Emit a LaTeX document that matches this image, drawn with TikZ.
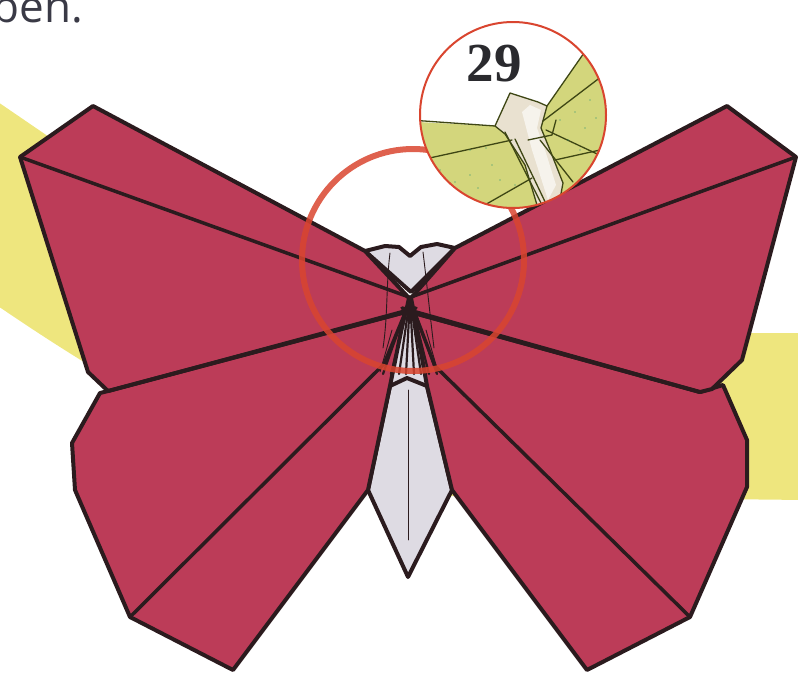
\documentclass[tikz,border=0pt]{standalone}
\usepackage{fontspec}
\setmainfont{Liberation Serif}
\newfontfamily\captionfont{Open Sans}
\begin{document}
\begin{tikzpicture}[x=1pt,y=-1pt,line join=round,line cap=round]
\definecolor{wingred}{HTML}{BC3C58}
\definecolor{outline}{HTML}{2B1B1E}
\definecolor{ribbon}{HTML}{EEE67E}
\definecolor{bodygray}{HTML}{DEDBE3}
\definecolor{ringred}{HTML}{D9452F}
\definecolor{insetgreen}{HTML}{D3D67C}
\definecolor{insetline}{HTML}{3E4614}
\definecolor{headbeige}{HTML}{E9E1D0}
\definecolor{numgray}{HTML}{2A2A2E}
\definecolor{textgray}{HTML}{3A3A46}
\tikzset{
  wing/.style={fill=wingred,draw=outline,line width=4},
  bodypart/.style={fill=bodygray,draw=outline,line width=4},
  crease/.style={draw=outline,line width=3.5},
  fanline/.style={draw=outline,line width=2.2},
  fold/.style={draw=outline,line width=0.9},
  ring/.style={draw=ringred,line width=6,opacity=0.85},
  insetedge/.style={draw=insetline,line width=1.3},
}
\useasboundingbox (0,0) rectangle (798,675);
\clip (0,0) rectangle (798,675);

% yellow ribbon behind the butterfly
\fill[ribbon] (-5,100) .. controls (200,240) and (330,333) .. (480,333) -- (805,333)
  -- (805,500) -- (440,496) .. controls (300,490) and (150,410) .. (-5,304) -- cycle;

% body core between the lower wings
\fill[bodygray] (404,300) -- (416,300) -- (430,392) -- (386,392) -- cycle;

% lower body
\filldraw[bodypart] (407,378) -- (427,386) -- (452,490) -- (408,577) -- (368,490) -- (390,386) -- cycle;
\draw[fold] (408,390) -- (408,540);

% head
\filldraw[bodypart] (365,251) -- (385,246) -- (399,247) -- (410,256) -- (421,247)
  -- (437,244) -- (455,248) -- (411,292) -- cycle;

% lower wings
\filldraw[wing] (100,393) -- (72,443) -- (75,490) -- (130,617) -- (233,670)
  -- (368,490) -- (390,386) -- (405,312) -- (108,391) -- cycle;
\filldraw[wing] (723,385) -- (747,440) -- (747,487) -- (690,617) -- (587,670)
  -- (452,490) -- (427,386) -- (414,313) -- (700,392) -- cycle;

% upper wings
\filldraw[wing] (93,106) -- (20,157) -- (88,372) -- (108,391) -- (406,312)
  -- (409,298) -- (365,251) -- cycle;
\filldraw[wing] (727,106) -- (796,157) -- (742,360) -- (712,389) -- (700,392)
  -- (414,313) -- (411,298) -- (455,248) -- cycle;

% thin layer edges near the body
\draw[fold] (390,253) .. controls (386,285) and (388,315) .. (383,348);
\draw[fold] (423,252) .. controls (427,285) and (430,315) .. (434,348);
\draw[fold] (392,330) -- (380,372);
\draw[fold] (426,330) -- (438,372);

% creases meeting at the centre
\draw[crease] (20,157) -- (409,297);
\draw[crease] (796,157) -- (411,297);
\draw[crease] (130,617) -- (384,364) -- (408,306);
\draw[crease] (690,617) -- (435,366) -- (412,306);
\draw[crease] (108,391) -- (416,308);
\draw[crease] (700,392) -- (402,308);

% fan of folded layers below the centre
\foreach \xe in {383,391,399,406,414,421,429,437}
  \draw[fanline] (410,298) -- (\xe,374);

% magnifier ring
\draw[ring] (413,260) circle[radius=111];

% detail inset
\fill[white] (513,115) circle[radius=93];
\begin{scope}
  \clip (513,115) circle[radius=93];
  \fill[insetgreen] (400,0) rectangle (620,220);
  \fill[white] (400,0) -- (400,121) -- (495,126) -- (510,93) -- (547,106) -- (600,30) -- (600,0) -- cycle;
  \filldraw[fill=headbeige,insetedge] (495,126) -- (510,93) -- (538,102) -- (547,106) -- (541,128)
    -- (550,150) -- (563,183) -- (557,215) -- (540,215) -- (525,165) -- (505,134) -- cycle;
  \fill[white,opacity=0.6] (530,105) -- (541,110) -- (537,128) -- (545,150) -- (556,185) -- (548,200) -- (532,150) -- (522,112) -- cycle;
  % inset wing edges and folds
  \draw[insetedge] (410,120) -- (495,126);
  \draw[insetedge] (425,159) -- (512,140);
  \draw[insetedge] (483,206) -- (532,178);
  \draw[insetedge] (505,132) -- (542,205);
  \draw[insetedge] (515,139) -- (549,210);
  \draw[insetedge] (547,106) -- (600,30);
  \draw[insetedge] (543,121) -- (610,70);
  \draw[insetedge] (546,130) -- (610,160);
  \draw[insetedge] (540,140) -- (573,182);
  \draw[insetedge] (528,140) -- (552,135) -- (556,120);
  \draw[insetedge] (555,160) -- (600,150);
  % stipple
  \foreach \px/\py in {440/170,455/182,470/175,462/195,478/188,447/190,500/180,492/165,
    560/120,575/112,585/128,568/140,590/100,580/150,596/118,470/150,486/148,515/185}
    \fill[insetline!60!cyan,opacity=0.5] (\px,\py) circle[radius=0.9];
\end{scope}
\draw[draw=ringred,line width=2] (513,115) circle[radius=93];
\node[font=\bfseries\fontsize{55}{55}\selectfont,text=numgray,inner sep=0] (num) at (494,64) {29};

% running text above
\node[anchor=base east,inner sep=0,font=\captionfont\fontsize{44}{44}\selectfont,text=textgray] (cap) at (83,22) {ben.};
\end{tikzpicture}
\end{document}
